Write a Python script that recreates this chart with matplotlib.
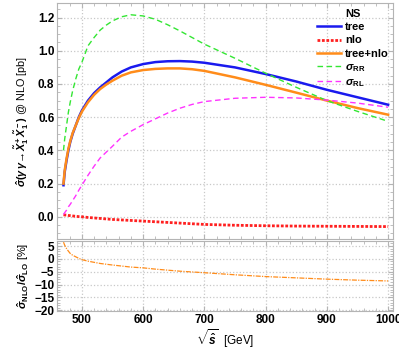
import matplotlib
matplotlib.use('Agg')
import matplotlib.pyplot as plt
from matplotlib.ticker import MultipleLocator

plt.rcParams['font.family'] = ['Liberation Sans', 'DejaVu Sans']
plt.rcParams['font.weight'] = 'bold'
plt.rcParams['mathtext.fontset'] = 'custom'
plt.rcParams['mathtext.rm'] = 'Liberation Sans:bold'
plt.rcParams['mathtext.it'] = 'Liberation Sans:italic:bold'
plt.rcParams['mathtext.bf'] = 'Liberation Sans:bold'

# sqrt(s) in GeV
roots = [470, 472, 475, 478, 481, 485, 490, 495, 500, 510, 520, 530, 540,
         550, 565, 580, 600, 620, 640, 660, 680, 700, 750, 800, 850, 900,
         950, 1000]
tree = [0.19, 0.27, 0.34, 0.40, 0.45, 0.50, 0.55, 0.60, 0.64, 0.70, 0.745,
        0.78, 0.81, 0.84, 0.875, 0.90, 0.92, 0.932, 0.937, 0.938, 0.935,
        0.928, 0.90, 0.86, 0.815, 0.765, 0.72, 0.675]
tree_nlo = [0.20, 0.28, 0.35, 0.41, 0.455, 0.505, 0.55, 0.595, 0.633, 0.69,
            0.735, 0.77, 0.797, 0.82, 0.85, 0.87, 0.884, 0.891, 0.894, 0.894,
            0.889, 0.879, 0.84, 0.795, 0.748, 0.70, 0.655, 0.615]
nlo = [0.012, 0.011, 0.010, 0.008, 0.007, 0.005, 0.003, 0.001, 0.0, -0.004,
       -0.007, -0.010, -0.013, -0.016, -0.019, -0.022, -0.026, -0.030,
       -0.034, -0.038, -0.042, -0.046, -0.051, -0.054, -0.056, -0.057,
       -0.058, -0.059]
sig_rr = [0.40, 0.47, 0.55, 0.63, 0.69, 0.76, 0.83, 0.89, 0.93, 1.03, 1.08,
          1.125, 1.155, 1.18, 1.205, 1.217, 1.21, 1.19, 1.157, 1.12, 1.08,
          1.04, 0.955, 0.865, 0.78, 0.70, 0.635, 0.575]
sig_rl = [0.014, 0.025, 0.04, 0.06, 0.075, 0.098, 0.127, 0.16, 0.19, 0.25,
          0.305, 0.355, 0.39, 0.425, 0.48, 0.515, 0.555, 0.59, 0.625, 0.654,
          0.677, 0.694, 0.714, 0.72, 0.716, 0.703, 0.685, 0.66]
ratio = [6.5, 5.3, 4.0, 3.0, 2.1, 1.4, 0.8, 0.2, -0.3, -0.9, -1.35, -1.8,
         -2.1, -2.4, -2.8, -3.2, -3.5, -4.0, -4.4, -4.8, -5.1, -5.4, -6.2,
         -6.9, -7.4, -7.9, -8.3, -8.6]

fig = plt.figure(figsize=(3.99, 3.51), dpi=100)
ax = fig.add_axes([0.143, 0.319, 0.842, 0.672])
ax2 = fig.add_axes([0.143, 0.114, 0.842, 0.199])

frame = '#b4b4b4'
for a in (ax, ax2):
    for s in a.spines.values():
        s.set_color(frame)
        s.set_linewidth(0.8)
    a.grid(True, which='major', color='#c8c8c8', linestyle=':', linewidth=0.9)
    a.tick_params(which='both', direction='in', color=frame, top=True,
                  right=True, labelsize=8.5, pad=2)
    a.tick_params(which='major', length=3.5)
    a.tick_params(which='minor', length=2)
    a.set_xlim(459.5, 1008)
    a.xaxis.set_major_locator(MultipleLocator(100))
    a.xaxis.set_minor_locator(MultipleLocator(20))

ax.plot(roots, tree, color='#1a1aee', lw=1.8, label='tree')
ax.plot(roots, nlo, color='#ff2020', lw=2.0, ls=(0, (1, 0.6)), label='nlo')
ax.plot(roots, tree_nlo, color='#ff8c1a', lw=1.8, label='tree+nlo')
ax.plot(roots, sig_rr, color='#33e633', lw=1.0, ls=(0, (4, 2.5)),
        label=r'$\sigma_{\mathrm{RR}}$')
ax.plot(roots, sig_rl, color='#ff33ff', lw=1.0, ls=(0, (4, 2.5)),
        label=r'$\sigma_{\mathrm{RL}}$')

ax.set_ylim(-0.134, 1.287)
ax.yaxis.set_major_locator(MultipleLocator(0.2))
ax.yaxis.set_minor_locator(MultipleLocator(0.05))
ax.yaxis.set_major_formatter(lambda v, p: f'{v:.1f}')
ax.tick_params(labelbottom=False)
ax.set_ylabel(r'$\hat{\sigma}(\gamma\,\gamma\!\rightarrow\!\tilde{X}_1^+\tilde{X}_1^-)$ @ NLO [pb]',
              fontsize=7.8, labelpad=5)

leg = ax.legend(loc='upper right', bbox_to_anchor=(1.0, 0.995), frameon=False,
                title='NS', fontsize=8, handlelength=2.2, handletextpad=0.3,
                labelspacing=0.3, borderaxespad=0.0)
leg.get_title().set_fontweight('bold')
leg.get_title().set_fontsize(8)

ax2.plot(roots, ratio, color='#ff8c1a', lw=0.9, ls=(0, (4, 1, 1, 1)))
ax2.set_ylim(-20.3, 6.9)
ax2.yaxis.set_major_locator(MultipleLocator(5))
ax2.yaxis.set_minor_locator(MultipleLocator(1))
ax2.yaxis.set_major_formatter(lambda v, p: f'{v:.0f}'.replace('-', '\u2212'))
ax2.set_ylabel(r'$\hat{\sigma}_{\mathrm{NLO}}/\hat{\sigma}_{\mathrm{LO}}$ [%]',
               fontsize=8, labelpad=2)
ax2.set_xlabel(r'$\sqrt{\hat{s}}$  [GeV]', fontsize=8.5, labelpad=1)
fig.align_ylabels([ax, ax2])

fig.savefig('out.png', dpi=100)
